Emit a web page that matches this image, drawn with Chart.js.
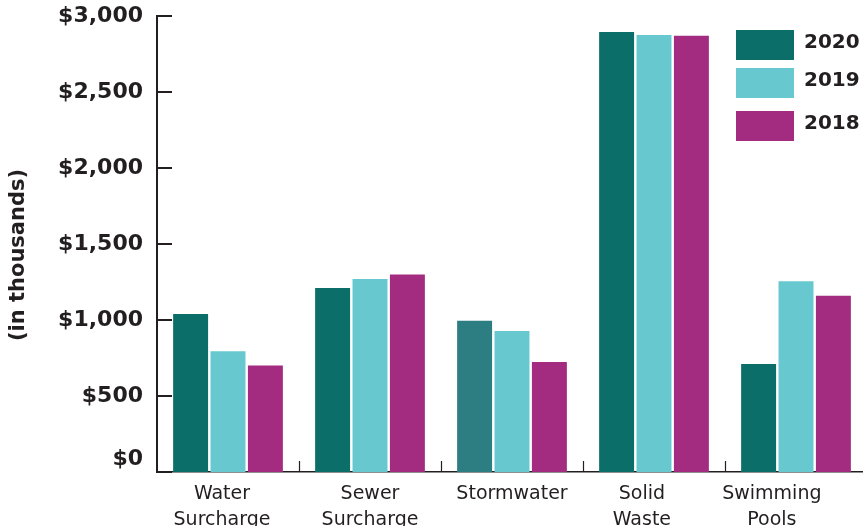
<!DOCTYPE html>
<html>
<head>
<meta charset="utf-8">
<title>Revenue by fund</title>
<script src="https://cdn.jsdelivr.net/npm/chart.js@4.4.1/dist/chart.umd.min.js"></script>
<style>
  html, body { margin: 0; padding: 0; background: #fff; overflow: hidden; }
  #wrap { position: relative; width: 870px; height: 526px; }
</style>
</head>
<body>
<div id="wrap"><canvas id="chart"></canvas></div>
<script>
// data (in thousands of dollars)
const categories = [['Water', 'Surcharge'], ['Sewer', 'Surcharge'], 'Stormwater', ['Solid', 'Waste'], ['Swimming', 'Pools']];
const years = ['2020', '2019', '2018'];
const values2020 = [1040, 1210, 995, 2895, 710];
const values2019 = [795, 1270, 928, 2875, 1255];
const values2018 = [700, 1300, 724, 2870, 1160];
const yTickLabels = ['$0', '$500', '$1,000', '$1,500', '$2,000', '$2,500', '$3,000'];
const yTitle = '(in thousands)';

const INK = '#231f20';
const TEAL = '#0c6e69';
const TEAL_STORM = '#2c7e82';
const CYAN = '#67c9cf';
const MAGENTA = '#a32c81';
const FONT = '"DejaVu Sans", sans-serif';
// the original labels sit a little left of centre; nudge with trailing spaces
const labelNudge = [2, 0, 0, 4, 8];

// inward tick marks on both axes
const axisMarks = {
  id: 'axisMarks',
  afterDraw(chart) {
    const { ctx, chartArea, scales: { x, y } } = chart;
    ctx.save();
    ctx.strokeStyle = INK;
    ctx.lineWidth = 2;
    y.ticks.forEach(t => {
      const py = y.getPixelForValue(t.value);
      ctx.beginPath();
      ctx.moveTo(chartArea.left, py);
      ctx.lineTo(chartArea.left + 15, py);
      ctx.stroke();
    });
    ctx.lineWidth = 1.2;
    for (let i = 1; i < categories.length; i++) {
      const px = Math.round((x.getPixelForTick(i - 1) + x.getPixelForTick(i)) / 2) + 0.5;
      ctx.beginPath();
      ctx.moveTo(px, chartArea.bottom - 11);
      ctx.lineTo(px, chartArea.bottom);
      ctx.stroke();
    }
    ctx.restore();
  }
};

// big square legend, top right
const boxLegend = {
  id: 'boxLegend',
  afterDraw(chart) {
    const ctx = chart.ctx;
    const rows = [30, 68, 111];
    ctx.save();
    ctx.font = 'bold 20px ' + FONT;
    ctx.textBaseline = 'middle';
    chart.data.datasets.forEach((ds, i) => {
      const bg = Array.isArray(ds.backgroundColor) ? ds.backgroundColor[0] : ds.backgroundColor;
      ctx.fillStyle = bg;
      ctx.fillRect(736, rows[i], 58, 30);
      ctx.fillStyle = INK;
      ctx.fillText(ds.label, 804, rows[i] + 13);
    });
    ctx.restore();
  }
};

new Chart(document.getElementById('chart'), {
  type: 'bar',
  data: {
    labels: categories,
    datasets: [
      { label: years[0], data: values2020, backgroundColor: [TEAL, TEAL, TEAL_STORM, TEAL, TEAL] },
      { label: years[1], data: values2019, backgroundColor: CYAN },
      { label: years[2], data: values2018, backgroundColor: MAGENTA }
    ]
  },
  options: {
    responsive: true, maintainAspectRatio: false,
    animation: false,
    layout: { padding: { top: 16, right: 3, left: 0, bottom: 0 } },
    datasets: { bar: { categoryPercentage: 0.79, barPercentage: 0.935 } },
    plugins: { legend: { display: false }, tooltip: { enabled: false } },
    scales: {
      x: {
        offset: true,
        grid: { display: false, drawTicks: false },
        border: { display: true, color: INK, width: 1.5 },
        ticks: {
          color: INK, padding: 10, maxRotation: 0, autoSkip: false,
          font: { family: FONT, size: 19, lineHeight: 1.32 },
          callback: (v, i) => {
            const pad = ' '.repeat(labelNudge[i]);
            const lab = categories[i];
            return Array.isArray(lab) ? lab.map(l => l + pad) : lab + pad;
          }
        },
        afterFit: s => { s.height = 54; s.paddingLeft = 0; s.paddingRight = 0; }
      },
      y: {
        min: 0, max: 3000,
        grid: { display: false, drawTicks: false },
        border: { display: true, color: INK, width: 2 },
        ticks: {
          stepSize: 500, color: INK, padding: 14,
          font: { family: FONT, size: 22, weight: 'bold' },
          callback: (v, i) => i === 0 ? [yTickLabels[0], ''] : yTickLabels[i]
        },
        title: {
          display: true, text: yTitle + '   ', color: INK,
          font: { family: FONT, size: 21, weight: 'bold' },
          padding: { top: 6, bottom: 0 }
        },
        afterFit: s => { s.width = 157; s.paddingTop = 0; s.paddingBottom = 0; }
      }
    }
  },
  plugins: [axisMarks, boxLegend]
});
</script>
</body>
</html>
